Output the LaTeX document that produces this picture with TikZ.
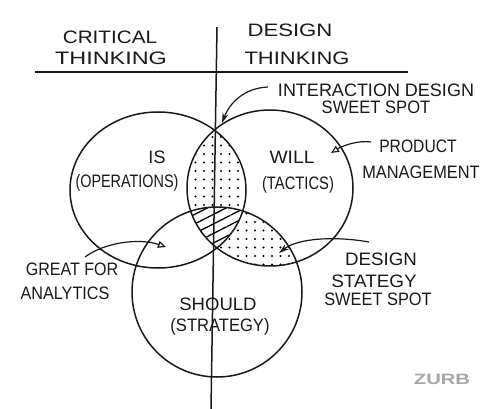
\documentclass[tikz,border=0pt]{standalone}
\usepackage{fontspec}
\setmainfont{Liberation Sans}
\usetikzlibrary{patterns.meta,arrows.meta}
\begin{document}
\begin{tikzpicture}[x=1pt,y=-1pt,
  ink/.style={line width=1.5pt, draw=black!90},
  lbl/.style={font=\fontsize{18}{20}\selectfont, inner sep=0pt, text=black!90},
  pointer/.style={line width=1.2pt, draw=black!90, -{Stealth[length=10pt,width=6pt]}},
  openpointer/.style={line width=1.2pt, draw=black!90, -{Triangle[open,length=8pt,width=7pt]}},
  dotfill/.style={pattern={Dots[distance=8.5pt,radius=1.1pt]}},
  hatchfill/.style={pattern={Lines[angle=27,distance=8.5pt,line width=1.3pt]}},
]
\useasboundingbox (0,0) rectangle (500,409);
\fill[white] (0,0) rectangle (500,409);
\coordinate (isc) at (158,190);
\coordinate (willc) at (270,188);
\coordinate (shouldc) at (217,292);
% shaded regions
\begin{scope}
  \clip (isc) ellipse [x radius=88pt, y radius=78pt];
  \fill[dotfill] (willc) ellipse [x radius=83pt, y radius=78pt];
\end{scope}
\begin{scope}
  \clip (willc) ellipse [x radius=83pt, y radius=78pt];
  \fill[dotfill] (shouldc) circle [radius=85pt];
\end{scope}
\begin{scope}
  \clip (isc) ellipse [x radius=88pt, y radius=78pt];
  \clip (willc) ellipse [x radius=83pt, y radius=78pt];
  \fill[white] (shouldc) circle [radius=85pt];
  \fill[hatchfill] (shouldc) circle [radius=85pt];
\end{scope}
% circles
\draw[ink] (isc) ellipse [x radius=88pt, y radius=78pt];
\draw[ink] (willc) ellipse [x radius=83pt, y radius=78pt];
\draw[ink] (shouldc) circle [radius=85pt];
% axes
\coordinate (vtop) at (217,27);
\coordinate (vbot) at (211,409);
\coordinate (hleft) at (35,72);
\coordinate (hright) at (408,72);
\draw[ink] (vtop) -- (vbot);
\draw[ink] (hleft) -- (hright);
% headings
\node[lbl] (crit) at (110,37) {\scalebox{1.15}[1]{CRITICAL}};
\node[lbl] (critthink) at (111,58) {\scalebox{1.3}[1]{THINKING}};
\node[lbl] (des) at (290,30) {\scalebox{1.23}[1]{DESIGN}};
\node[lbl] (desthink) at (297,58) {\scalebox{1.22}[1]{THINKING}};
% circle labels
\node[lbl] (is) at (157,157) {IS};
\node[lbl] (ops) at (127,183) {\scalebox{0.8}[1]{(OPERATIONS)}};
\node[lbl] (will) at (292,157) {\scalebox{1.07}[1]{WILL}};
\node[lbl] (tac) at (298,185) {\scalebox{0.82}[1]{(TACTICS)}};
\node[lbl] (should) at (218,304) {\scalebox{1.03}[1]{SHOULD}};
\node[lbl] (strat) at (220,327) {\scalebox{0.92}[1]{(STRATEGY)}};
% annotations
\node[lbl] (intd) at (376,90) {INTERACTION DESIGN};
\node[lbl] (intsw) at (376,107) {\scalebox{0.92}[1]{SWEET SPOT}};
\node[lbl] (prod) at (418,146) {\scalebox{0.87}[1]{PRODUCT}};
\node[lbl] (mgmt) at (421,172) {\scalebox{0.91}[1]{MANAGEMENT}};
\node[lbl] (dsd) at (381,259) {\scalebox{1.04}[1]{DESIGN}};
\node[lbl] (dss) at (374,281) {\scalebox{1.05}[1]{STATEGY}};
\node[lbl] (dssw) at (378,299) {\scalebox{0.91}[1]{SWEET SPOT}};
\node[lbl] (great) at (72,269) {\scalebox{0.89}[1]{GREAT FOR}};
\node[lbl] (anal) at (65,293) {\scalebox{0.9}[1]{ANALYTICS}};
\node[font=\bfseries\fontsize{15}{16}\selectfont, text=black!35, inner sep=0pt] (zurb) at (442,379) {\scalebox{1.35}[1]{ZURB}};
% arrows
\coordinate (idtail) at (268,87);
\coordinate (idtip) at (222,123);
\coordinate (pmtail) at (371,142);
\coordinate (pmtip) at (331,153);
\coordinate (dstail) at (369,242);
\coordinate (dstip) at (279,253);
\coordinate (gatail) at (85,257);
\coordinate (gatip) at (166,247);
\draw[pointer] (idtail) .. controls (245,88) and (230,102) .. (idtip);
\draw[openpointer] (pmtail) .. controls (358,140) and (342,146) .. (pmtip);
\draw[pointer] (dstail) .. controls (335,236) and (298,238) .. (dstip);
\draw[openpointer] (gatail) .. controls (105,242) and (140,238) .. (gatip);
\end{tikzpicture}
\end{document}
